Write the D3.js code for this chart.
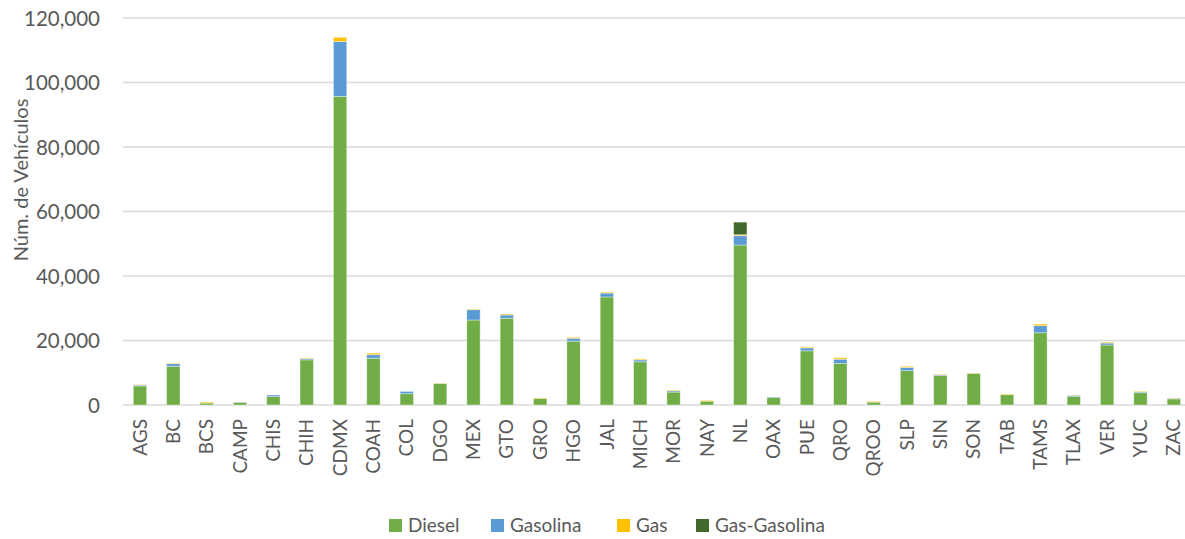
<!DOCTYPE html>
<html>
<head>
<meta charset="utf-8">
<script src="https://cdn.jsdelivr.net/npm/d3@7"></script>
<style>
    body { margin: 0; background: #fff; }
    svg { display: block; }
    text { font-family: Lato, "Open Sans", sans-serif; fill: #595959; }
</style>
</head>
<body>
<script>

// data
var estados = ["AGS", "BC", "BCS", "CAMP", "CHIS", "CHIH", "CDMX", "COAH", "COL", "DGO", "MEX", "GTO", "GRO", "HGO", "JAL", "MICH",
    "MOR", "NAY", "NL", "OAX", "PUE", "QRO", "QROO", "SLP", "SIN", "SON", "TAB", "TAMS", "TLAX", "VER", "YUC", "ZAC"];

var diesel = [5900, 12000, 600, 800, 2600, 14000, 95700, 14500, 3500, 6700, 26350, 26900, 2000, 19800, 33500, 13400,
    4000, 1200, 49600, 2300, 16800, 12900, 900, 10650, 9100, 9800, 3200, 22400, 2600, 18600, 3800, 1900];
var gasolina = [300, 800, 0, 100, 500, 400, 17000, 1100, 700, 0, 3200, 1000, 0, 900, 1200, 600,
    400, 0, 2900, 200, 900, 1300, 0, 1000, 300, 0, 0, 2200, 400, 600, 300, 200];
var gas = [150, 200, 300, 0, 0, 200, 1300, 500, 0, 100, 200, 300, 200, 300, 300, 300,
    250, 250, 300, 0, 300, 450, 250, 350, 200, 100, 200, 500, 100, 300, 200, 100];
var gasGasolina = [0, 0, 0, 0, 0, 0, 0, 0, 0, 0, 0, 0, 0, 0, 0, 0,
    0, 0, 3900, 0, 0, 0, 0, 0, 0, 0, 0, 0, 0, 0, 0, 0];

var series = ["Diesel", "Gasolina", "Gas", "Gas-Gasolina"];
var colores = ["#70AD47", "#5B9BD5", "#FFC000", "#43682B"];
var yTicks = [0, 20000, 40000, 60000, 80000, 100000, 120000];

var width = 1185, height = 539;

var svg = d3.select("body").append("svg")
    .attr("width", width)
    .attr("height", height);

// plot area (the right end runs past the picture, like the original)
var x = d3.scaleBand()
    .domain(estados)
    .range([123.3, 1190.5])
    .paddingInner(0.6)
    .paddingOuter(0.3);

var y = d3.scaleLinear()
    .domain([0, 120000])
    .range([405, 18]);

// gridlines
svg.append("g")
    .selectAll("line")
    .data(yTicks)
    .enter().append("line")
    .attr("x1", 123)
    .attr("x2", 1190)
    .attr("y1", function (d) { return y(d); })
    .attr("y2", function (d) { return y(d); })
    .attr("stroke", "#d9d9d9")
    .attr("stroke-width", 1.5);

// y axis labels
var yAxis = d3.axisLeft(y).tickValues(yTicks).tickFormat(d3.format(",")).tickSize(0).tickPadding(0);
var gy = svg.append("g")
    .attr("transform", "translate(100,0)")
    .call(yAxis);
gy.select(".domain").remove();
gy.selectAll("text")
    .attr("font-size", "20.5px")
    .attr("font-family", null)
    .attr("fill", "#595959")
    .attr("dy", "0.35em");

svg.append("text")
    .attr("transform", "translate(28,180) rotate(-90)")
    .attr("text-anchor", "middle")
    .attr("font-size", "20px")
    .text("Núm. de Vehículos");

// stacked bars
var tabla = estados.map(function (e, i) {
    return { estado: e, "Diesel": diesel[i], "Gasolina": gasolina[i], "Gas": gas[i], "Gas-Gasolina": gasGasolina[i] };
});
var stack = d3.stack().keys(series)(tabla);

svg.append("g")
    .selectAll("g")
    .data(stack)
    .enter().append("g")
    .attr("fill", function (d, i) { return colores[i]; })
    .selectAll("rect")
    .data(function (d) { return d; })
    .enter().append("rect")
    .attr("x", function (d) { return x(d.data.estado); })
    .attr("width", x.bandwidth())
    .attr("y", function (d) { return y(d[1]); })
    .attr("height", function (d) { return y(d[0]) - y(d[1]); })
    .attr("stroke", "rgba(255,255,255,0.45)")
    .attr("stroke-width", 0.8);

// x axis labels, rotated
var xAxis = d3.axisBottom(x).tickSize(0).tickPadding(0);
var gx = svg.append("g")
    .attr("transform", "translate(0,419)")
    .call(xAxis);
gx.select(".domain").remove();
gx.selectAll("text")
    .attr("font-size", "19px")
    .attr("font-family", null)
    .attr("fill", "#595959")
    .attr("text-anchor", "end")
    .attr("transform", "rotate(-90)")
    .attr("x", 0)
    .attr("y", 0)
    .attr("dx", 0)
    .attr("dy", "0.35em");

// legend
var legendX = [389, 491, 617, 696];
var leyenda = svg.append("g")
    .selectAll("g")
    .data(series)
    .enter().append("g")
    .attr("transform", function (d, i) { return "translate(" + legendX[i] + ",519)"; });

leyenda.append("rect")
    .attr("width", 13)
    .attr("height", 13)
    .attr("fill", function (d, i) { return colores[i]; });

leyenda.append("text")
    .attr("x", 19)
    .attr("y", 13)
    .attr("font-size", "19px")
    .text(function (d) { return d; });

</script>
</body>
</html>
